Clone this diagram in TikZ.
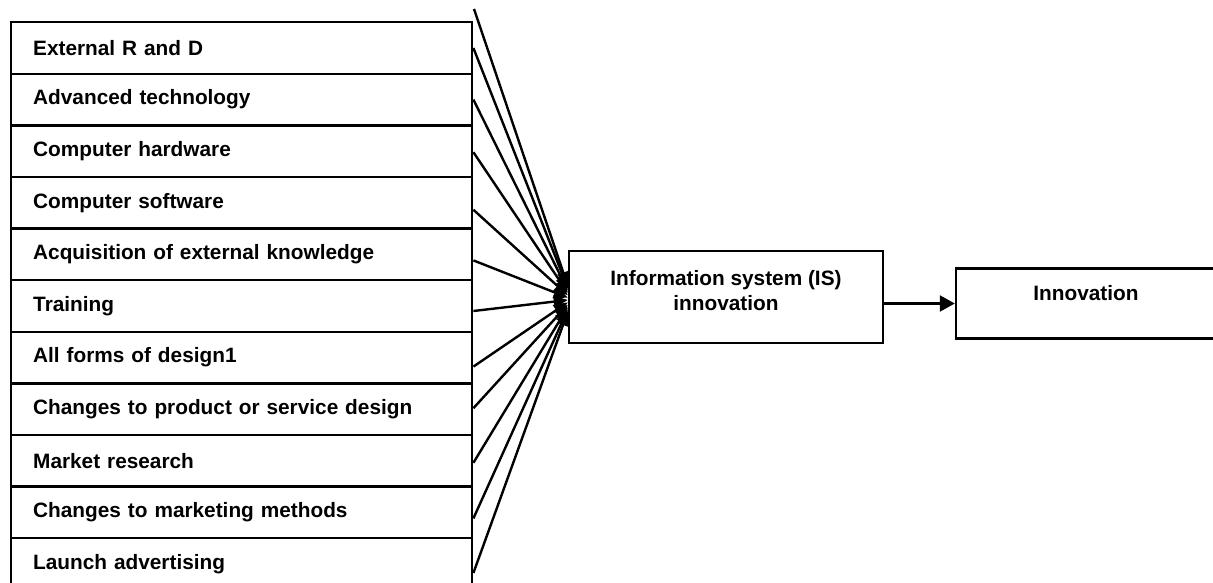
\documentclass[tikz,border=0pt]{standalone}
\usepackage{fontspec}
\setmainfont{Liberation Sans}
\usetikzlibrary{arrows.meta, positioning, calc}

\begin{document}
\begin{tikzpicture}[
    x=1pt, y=-1pt,
    factor/.style={rectangle, draw=black, line width=2.4pt, anchor=north west, minimum height=51.6pt, text width=417pt, inner xsep=22pt, align=left, font=\fontsize{20.8}{24}\selectfont\bfseries},
    block/.style={rectangle, draw=black, line width=2.4pt},
    blocktext/.style={align=center, font=\fontsize{20.8}{25}\selectfont\bfseries},
    arrow/.style={-{Triangle[length=14pt, width=12pt]}, line width=2.4pt}
]
    \useasboundingbox (0,0) rectangle (1213,583);

    % Factors
    \node[factor] (extRD) at (10, 21) {External R and D};
    \node[factor] (advTech) at (10, 72.6) {Advanced technology};
    \node[factor] (compHw) at (10, 124.2) {Computer hardware};
    \node[factor] (compSw) at (10, 175.8) {Computer software};
    \node[factor] (acqKnow) at (10, 227.4) {Acquisition of external knowledge};
    \node[factor] (training) at (10, 279) {Training};
    \node[factor] (design) at (10, 330.6) {All forms of design1};
    \node[factor] (prodDesign) at (10, 382.2) {Changes to product or service design};
    \node[factor] (market) at (10, 433.8) {Market research};
    \node[factor] (mktMethods) at (10, 485.4) {Changes to marketing methods};
    \node[factor] (launch) at (10, 537) {Launch advertising};

    % IS innovation and innovation
    \node[block, minimum width=314pt, minimum height=92pt] (isInnov) at (726, 297) {};
    \node[blocktext] (isText) at (726, 291) {Information system (IS)\\innovation};
    \node[block, minimum width=260pt, minimum height=70pt] (innov) at (1086, 303.5) {};
    \node[blocktext] (innovText) at (1086, 293) {Innovation};

    \coordinate (above) at (474, 9);

    % Interactions
    \draw[arrow] (above) -- ($(isInnov.north west)+(0,36)$);
    \draw[arrow] ($(extRD.north east)+(0,27)$) -- ($(isInnov.north west)+(0,38.4)$);
    \draw[arrow] ($(advTech.north east)+(0,27)$) -- ($(isInnov.north west)+(0,40.7)$);
    \draw[arrow] ($(compHw.north east)+(0,28)$) -- ($(isInnov.north west)+(0,43.1)$);
    \draw[arrow] ($(compSw.north east)+(0,34)$) -- ($(isInnov.north west)+(0,45.5)$);
    \draw[arrow] ($(acqKnow.north east)+(0,33)$) -- ($(isInnov.north west)+(0,47.8)$);
    \draw[arrow] ($(training.north east)+(0,32)$) -- ($(isInnov.north west)+(0,50.2)$);
    \draw[arrow] ($(design.north east)+(0,36)$) -- ($(isInnov.north west)+(0,52.5)$);
    \draw[arrow] ($(prodDesign.north east)+(0,26)$) -- ($(isInnov.north west)+(0,54.9)$);
    \draw[arrow] ($(market.north east)+(0,29)$) -- ($(isInnov.north west)+(0,57.3)$);
    \draw[arrow] ($(mktMethods.north east)+(0,33)$) -- ($(isInnov.north west)+(0,59.6)$);
    \draw[arrow] ($(launch.north east)+(0,36)$) -- ($(isInnov.north west)+(0,62)$);

    \draw[arrow, -{Triangle[length=15pt, width=16pt]}] (isInnov.east |- innov.west) -- (innov.west);

\end{tikzpicture}
\end{document}
